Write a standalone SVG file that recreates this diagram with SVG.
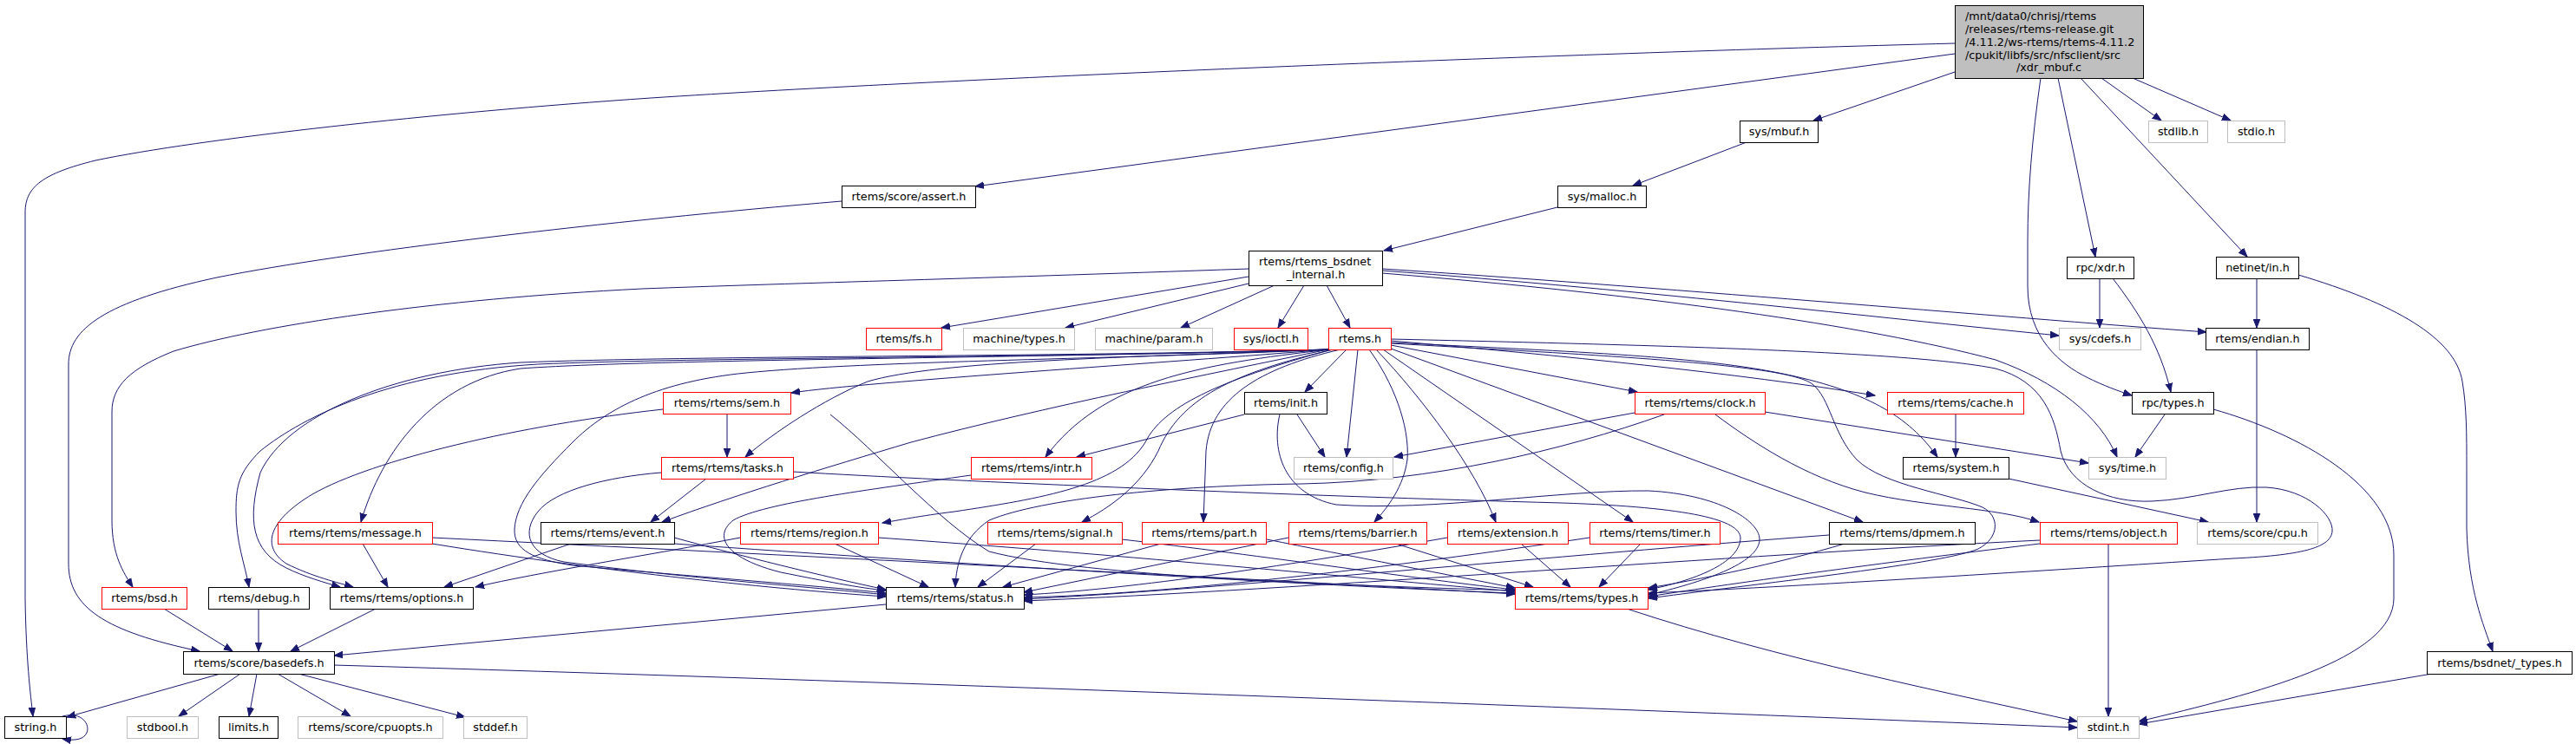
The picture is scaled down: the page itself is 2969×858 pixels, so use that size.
<svg xmlns="http://www.w3.org/2000/svg" width="2969" height="858" viewBox="0 0 2969 858">
<style>
text{font-family:"DejaVu Sans","Liberation Sans",sans-serif;font-size:12.8px;fill:#000;text-anchor:middle}
.node rect{fill:#fff;stroke-width:1}
.k rect{stroke:#000}
.r rect{stroke:#ff0000}
.g rect{stroke:#bfbfbf}
.m rect{fill:#bfbfbf;stroke:#000}
#edges path{fill:none;stroke:#191970;stroke-width:1;marker-end:url(#ah)}
</style>
<defs>
<marker id="ah" markerUnits="userSpaceOnUse" markerWidth="11" markerHeight="9" refX="10" refY="4.5" orient="auto">
<path d="M0,0.7 L10,4.5 L0,8.3 z" fill="#191970" stroke="#191970" stroke-width="1"/>
</marker>
</defs>
<rect width="2969" height="858" fill="#fff"/>
<g id="edges">
<path d="M2253,50 C1800,62 1100,90 750,113 C500,130 230,160 110,185 C50,200 29,215 29,245 L29,690 C30,760 35,800 38,826"/>
<path d="M2253,62 L1124,215"/>
<path d="M2253,83 L2090,139"/>
<path d="M2422,90 L2491,139"/>
<path d="M2458,90 L2571,139"/>
<path d="M2372,90 L2415,296"/>
<path d="M2398,90 L2590,296"/>
<path d="M2352,90 C2342,160 2337,220 2337,280 L2337,330 C2337,390 2375,420 2405,435 C2425,445 2442,451 2457,456"/>
<path d="M2013,164 L1882,214"/>
<path d="M1795,239 L1595,289"/>
<path d="M970,232 C700,255 400,290 250,320 C120,348 79,380 79,420 L79,650 C79,700 120,728 230,751"/>
<path d="M1439,310 C1100,322 900,327 740,333 C500,345 300,375 200,405 C150,425 129,445 129,475 L129,600 C129,640 142,660 153,677"/>
<path d="M1439,319 L1085,378"/>
<path d="M1439,327 L1228,378"/>
<path d="M1469,329 L1361,378"/>
<path d="M1503,329 L1473,378"/>
<path d="M1529,329 L1556,378"/>
<path d="M1593,312 C1900,335 2200,370 2373,387"/>
<path d="M1593,310 C1900,330 2300,365 2543,383"/>
<path d="M1593,315 C1900,340 2150,375 2300,415 C2370,440 2420,480 2440,527"/>
<path d="M2420,321 L2420,378"/>
<path d="M2435,321 C2465,360 2490,400 2502,452"/>
<path d="M2601,321 L2601,378"/>
<path d="M2649,317 C2760,350 2830,390 2838,440 C2843,470 2843,500 2843,540 L2843,610 C2845,680 2862,720 2873,751"/>
<path d="M2601,403 L2601,602"/>
<path d="M2495,478 L2461,527"/>
<path d="M2551,472 C2650,500 2759,560 2759,640 L2759,690 C2759,760 2600,800 2465,832"/>
<path d="M2803,777 L2465,835"/>
<path d="M2254,478 L2254,527"/>
<path d="M2315,552 L2545,602"/>
<path d="M2430,627 L2430,826"/>
<path d="M1531,403 C1350,418 1000,440 912,453"/>
<path d="M1531,403 C1300,412 1080,416 1000,440 C950,460 890,500 859,527"/>
<path d="M1531,403 C1400,430 1200,470 1050,510 C950,540 850,570 763,602"/>
<path d="M1531,403 C1200,413 750,414 600,425 C500,440 440,520 416,602"/>
<path d="M1531,403 C1200,412 800,410 600,418 C450,428 330,480 300,545 C285,600 290,635 330,655 C350,665 375,672 392,677"/>
<path d="M1531,403 C1200,413 800,412 620,420 C450,430 350,480 300,520 C275,545 272,560 272,590 C272,625 282,650 287,677"/>
<path d="M1531,403 C1300,414 1000,416 860,430 C760,440 700,470 660,510 C620,550 595,580 593,610 C592,635 615,645 660,652 C800,665 950,676 1021,684"/>
<path d="M1533,403 C1380,420 1270,440 1205,527"/>
<path d="M1535,403 C1400,440 1340,470 1320,510 C1290,560 1200,575 1100,590 C1060,595 1035,600 1017,603"/>
<path d="M1537,403 C1420,430 1360,460 1335,520 C1315,560 1280,585 1247,602"/>
<path d="M1545,403 C1450,425 1395,460 1390,520 L1387,602"/>
<path d="M1552,403 L1504,452"/>
<path d="M1565,403 L1552,527"/>
<path d="M1578,403 C1605,440 1625,490 1622,530 C1618,560 1600,585 1584,602"/>
<path d="M1586,403 C1640,460 1700,540 1724,602"/>
<path d="M1594,403 L1882,602"/>
<path d="M1603,402 L2147,602"/>
<path d="M1603,398 L1887,452"/>
<path d="M1603,393 C1800,410 2000,430 2161,456"/>
<path d="M1603,395 C1800,405 1950,410 2050,430 C2150,450 2200,480 2233,527"/>
<path d="M1603,391 C1900,398 2200,405 2300,425 C2355,440 2368,480 2375,520 C2385,560 2430,580 2480,578 C2530,576 2570,560 2612,562 C2660,565 2690,595 2688,613 C2686,630 2660,640 2574,644 C2400,655 2100,675 1900,684"/>
<path d="M1603,396 C1850,410 2060,420 2089,443 C2110,460 2112,500 2140,530 C2170,560 2250,570 2285,585 C2305,595 2305,620 2280,633 C2240,650 2050,670 1900,690"/>
<path d="M1434,478 L1241,527"/>
<path d="M1495,478 L1527,527"/>
<path d="M1475,478 C1465,520 1480,570 1540,582 C1650,590 1800,565 1900,566 C1980,570 2028,600 2028,622 C2028,650 1960,672 1900,686"/>
<path d="M1884,476 L1607,527"/>
<path d="M1918,478 C1800,520 1650,555 1500,558 C1350,560 1200,575 1140,600 C1110,620 1102,650 1101,677"/>
<path d="M2034,475 L2407,534"/>
<path d="M1977,478 C2020,510 2080,550 2150,568 C2220,585 2300,585 2350,602"/>
<path d="M838,478 L838,527"/>
<path d="M764,472 C600,490 430,530 360,570 C310,600 300,630 330,650 C360,665 390,672 407,677"/>
<path d="M957,478 C1010,520 1080,600 1140,636 C1250,665 1550,675 1746,681"/>
<path d="M814,552 L750,602"/>
<path d="M762,545 C700,550 640,565 620,590 C600,615 610,640 650,648 C800,668 950,678 1021,686"/>
<path d="M914,544 C1100,555 1500,572 1800,580 C1950,585 2005,600 2006,620 C2006,650 1950,670 1900,680"/>
<path d="M1119,548 C1000,565 880,580 845,600 C820,620 840,645 900,660 C950,670 990,678 1021,681"/>
<path d="M418,627 L447,677"/>
<path d="M498,627 C700,660 900,680 1021,688"/>
<path d="M498,620 C900,640 1400,665 1746,685"/>
<path d="M658,627 L512,677"/>
<path d="M777,620 C850,640 950,665 1021,680"/>
<path d="M777,627 C1100,650 1500,675 1746,684"/>
<path d="M853,620 C750,640 620,660 548,677"/>
<path d="M962,627 L1070,677"/>
<path d="M1012,620 C1300,640 1600,670 1746,682"/>
<path d="M1194,627 L1127,677"/>
<path d="M1293,622 C1450,640 1650,670 1746,680"/>
<path d="M1338,627 L1156,677"/>
<path d="M1460,622 C1550,640 1680,665 1746,678"/>
<path d="M1485,620 L1180,683"/>
<path d="M1609,627 L1767,677"/>
<path d="M1668,620 C1500,650 1300,680 1180,686"/>
<path d="M1753,627 L1810,677"/>
<path d="M1832,620 C1600,655 1350,685 1180,689"/>
<path d="M1891,627 L1843,677"/>
<path d="M2108,617 C1800,640 1400,680 1180,691"/>
<path d="M2126,627 C2050,650 1950,670 1900,678"/>
<path d="M2351,623 C2000,640 1500,680 1180,693"/>
<path d="M2351,627 C2200,645 2000,672 1900,688"/>
<path d="M433,702 L335,751"/>
<path d="M1021,697 L385,756"/>
<path d="M298,702 L298,751"/>
<path d="M189,702 L268,751"/>
<path d="M254,777 L77,827"/>
<path d="M277,777 L206,826"/>
<path d="M296,777 L287,826"/>
<path d="M320,777 L404,826"/>
<path d="M344,777 L536,827"/>
<path d="M385,767 C1000,785 1800,815 2394,839"/>
<path d="M1875,702 C2050,760 2250,800 2394,832"/>
<path d="M72,826 C95,820 104,836 100,845 C97,852 88,855 72,852"/>
</g>
<g id="n-main" class="node m"><rect x="2253.5" y="6.5" width="217" height="84"/>
<text x="2265" y="23" style="text-anchor:start">/mnt/data0/chrisj/rtems</text>
<text x="2265" y="38" style="text-anchor:start">/releases/rtems-release.git</text>
<text x="2265" y="52.5" style="text-anchor:start">/4.11.2/ws-rtems/rtems-4.11.2</text>
<text x="2265" y="67.5" style="text-anchor:start">/cpukit/libfs/src/nfsclient/src</text>
<text x="2361.5" y="82">/xdr_mbuf.c</text></g>
<g id="n-sys-mbuf" class="node k"><rect x="2005.5" y="139.5" width="90" height="25"/><text x="2050.5" y="156">sys/mbuf.h</text></g>
<g id="n-stdlib" class="node g"><rect x="2476.5" y="139.5" width="68" height="25"/><text x="2510.5" y="156">stdlib.h</text></g>
<g id="n-stdio" class="node g"><rect x="2567.5" y="139.5" width="66" height="25"/><text x="2600.5" y="156">stdio.h</text></g>
<g id="n-assert" class="node k"><rect x="970.5" y="214.5" width="154" height="25"/><text x="1047.5" y="231">rtems/score/assert.h</text></g>
<g id="n-sys-malloc" class="node k"><rect x="1795.5" y="214.5" width="102" height="25"/><text x="1846.5" y="231">sys/malloc.h</text></g>
<g id="n-bsdnet-internal" class="node k"><rect x="1439.5" y="289.5" width="154" height="40"/>
<text x="1451" y="306" style="text-anchor:start">rtems/rtems_bsdnet</text><text x="1516.5" y="321">_internal.h</text></g>
<g id="n-rpc-xdr" class="node k"><rect x="2382.5" y="296.5" width="77" height="25"/><text x="2421" y="313">rpc/xdr.h</text></g>
<g id="n-netinet-in" class="node k"><rect x="2554.5" y="296.5" width="95" height="25"/><text x="2602" y="313">netinet/in.h</text></g>
<g id="n-fs" class="node r"><rect x="998.5" y="378.5" width="87" height="25"/><text x="1042" y="395">rtems/fs.h</text></g>
<g id="n-machine-types" class="node g"><rect x="1110.5" y="378.5" width="128" height="25"/><text x="1174.5" y="395">machine/types.h</text></g>
<g id="n-machine-param" class="node g"><rect x="1262.5" y="378.5" width="135" height="25"/><text x="1330" y="395">machine/param.h</text></g>
<g id="n-sys-ioctl" class="node r"><rect x="1422.5" y="378.5" width="85" height="25"/><text x="1465" y="395">sys/ioctl.h</text></g>
<g id="n-rtems" class="node r"><rect x="1531.5" y="378.5" width="72" height="25"/><text x="1567.5" y="395">rtems.h</text></g>
<g id="n-sys-cdefs" class="node g"><rect x="2373.5" y="378.5" width="94" height="25"/><text x="2420.5" y="395">sys/cdefs.h</text></g>
<g id="n-endian" class="node k"><rect x="2542.5" y="378.5" width="119" height="25"/><text x="2602" y="395">rtems/endian.h</text></g>
<g id="n-sem" class="node r"><rect x="764.5" y="452.5" width="147" height="25"/><text x="838" y="469">rtems/rtems/sem.h</text></g>
<g id="n-init" class="node k"><rect x="1434.5" y="452.5" width="95" height="25"/><text x="1482" y="469">rtems/init.h</text></g>
<g id="n-clock" class="node r"><rect x="1884.5" y="452.5" width="150" height="25"/><text x="1959.5" y="469">rtems/rtems/clock.h</text></g>
<g id="n-cache" class="node r"><rect x="2175.5" y="452.5" width="157" height="25"/><text x="2254" y="469">rtems/rtems/cache.h</text></g>
<g id="n-rpc-types" class="node k"><rect x="2457.5" y="452.5" width="94" height="25"/><text x="2504.5" y="469">rpc/types.h</text></g>
<g id="n-tasks" class="node r"><rect x="762.5" y="527.5" width="152" height="25"/><text x="838.5" y="544">rtems/rtems/tasks.h</text></g>
<g id="n-intr" class="node r"><rect x="1119.5" y="527.5" width="139" height="25"/><text x="1189" y="544">rtems/rtems/intr.h</text></g>
<g id="n-config" class="node g"><rect x="1491.5" y="527.5" width="114" height="25"/><text x="1548.5" y="544">rtems/config.h</text></g>
<g id="n-system" class="node k"><rect x="2193.5" y="527.5" width="122" height="25"/><text x="2254.5" y="544">rtems/system.h</text></g>
<g id="n-sys-time" class="node g"><rect x="2407.5" y="527.5" width="89" height="25"/><text x="2452" y="544">sys/time.h</text></g>
<g id="n-message" class="node r"><rect x="320.5" y="602.5" width="178" height="25"/><text x="409.5" y="619">rtems/rtems/message.h</text></g>
<g id="n-event" class="node k"><rect x="623.5" y="602.5" width="154" height="25"/><text x="700.5" y="619">rtems/rtems/event.h</text></g>
<g id="n-region" class="node r"><rect x="853.5" y="602.5" width="159" height="25"/><text x="933" y="619">rtems/rtems/region.h</text></g>
<g id="n-signal" class="node r"><rect x="1138.5" y="602.5" width="155" height="25"/><text x="1216" y="619">rtems/rtems/signal.h</text></g>
<g id="n-part" class="node r"><rect x="1316.5" y="602.5" width="143" height="25"/><text x="1388" y="619">rtems/rtems/part.h</text></g>
<g id="n-barrier" class="node r"><rect x="1485.5" y="602.5" width="159" height="25"/><text x="1565" y="619">rtems/rtems/barrier.h</text></g>
<g id="n-extension" class="node r"><rect x="1668.5" y="602.5" width="139" height="25"/><text x="1738" y="619">rtems/extension.h</text></g>
<g id="n-timer" class="node r"><rect x="1832.5" y="602.5" width="150" height="25"/><text x="1907.5" y="619">rtems/rtems/timer.h</text></g>
<g id="n-dpmem" class="node k"><rect x="2108.5" y="602.5" width="168" height="25"/><text x="2192.5" y="619">rtems/rtems/dpmem.h</text></g>
<g id="n-object" class="node r"><rect x="2351.5" y="602.5" width="158" height="25"/><text x="2430.5" y="619">rtems/rtems/object.h</text></g>
<g id="n-score-cpu" class="node g"><rect x="2532.5" y="602.5" width="139" height="25"/><text x="2602" y="619">rtems/score/cpu.h</text></g>
<g id="n-bsd" class="node r"><rect x="117.5" y="677.5" width="98" height="25"/><text x="166.5" y="694">rtems/bsd.h</text></g>
<g id="n-debug" class="node k"><rect x="240.5" y="677.5" width="116" height="25"/><text x="298.5" y="694">rtems/debug.h</text></g>
<g id="n-options" class="node k"><rect x="380.5" y="677.5" width="165" height="25"/><text x="463" y="694">rtems/rtems/options.h</text></g>
<g id="n-status" class="node k"><rect x="1021.5" y="677.5" width="159" height="25"/><text x="1101" y="694">rtems/rtems/status.h</text></g>
<g id="n-types" class="node r"><rect x="1746.5" y="677.5" width="153" height="25"/><text x="1823" y="694">rtems/rtems/types.h</text></g>
<g id="n-basedefs" class="node k"><rect x="211.5" y="751.5" width="174" height="26"/><text x="298.5" y="769">rtems/score/basedefs.h</text></g>
<g id="n-bsdnet-types" class="node k"><rect x="2797.5" y="751.5" width="167" height="26"/><text x="2881" y="769">rtems/bsdnet/_types.h</text></g>
<g id="n-string" class="node k"><rect x="5.5" y="826.5" width="71" height="25"/><text x="41" y="843">string.h</text></g>
<g id="n-stdbool" class="node g"><rect x="146.5" y="826.5" width="82" height="25"/><text x="187.5" y="843">stdbool.h</text></g>
<g id="n-limits" class="node k"><rect x="252.5" y="826.5" width="68" height="25"/><text x="286.5" y="843">limits.h</text></g>
<g id="n-cpuopts" class="node g"><rect x="343.5" y="826.5" width="167" height="25"/><text x="427" y="843">rtems/score/cpuopts.h</text></g>
<g id="n-stddef" class="node g"><rect x="534.5" y="826.5" width="73" height="25"/><text x="571" y="843">stddef.h</text></g>
<g id="n-stdint" class="node g"><rect x="2394.5" y="826.5" width="71" height="25"/><text x="2430" y="843">stdint.h</text></g>
</svg>
